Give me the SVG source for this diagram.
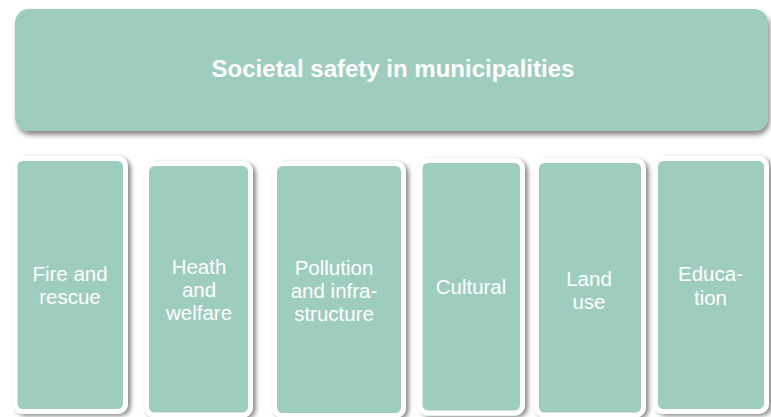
<svg xmlns="http://www.w3.org/2000/svg" width="771" height="417" viewBox="0 0 771 417">
  <defs>
    <filter id="shTop" x="-5%" y="-20%" width="110%" height="150%">
      <feDropShadow dx="2" dy="4" stdDeviation="2.5" flood-color="#000" flood-opacity="0.45"/>
    </filter>
    <filter id="sh" x="-20%" y="-10%" width="150%" height="120%">
      <feDropShadow dx="3" dy="2" stdDeviation="2.2" flood-color="#000" flood-opacity="0.45"/>
    </filter>
  </defs>
  <style>
    .top { fill: #9ecdbf; }
    .box { fill: #9ecdbf; stroke: #ffffff; stroke-width: 5; }
    .title { font-family: "Liberation Sans", Arial, sans-serif; font-size: 24px; font-weight: bold; fill: #ffffff; text-anchor: middle; }
    .lbl { font-family: "Liberation Sans", Arial, sans-serif; font-size: 20.5px; fill: #ffffff; text-anchor: middle; }
  </style>
  <rect width="771" height="417" fill="#ffffff"/>

  <g id="node-top">
    <rect class="top" x="15" y="9" width="753" height="122" rx="14" filter="url(#shTop)"/>
    <text class="title" x="393" y="77">Societal safety in municipalities</text>
  </g>

  <g id="node-fire">
    <rect class="box" x="15" y="158.5" width="110.5" height="253" rx="8" filter="url(#sh)"/>
    <text class="lbl" x="70" y="281">Fire and</text>
    <text class="lbl" x="70" y="304">rescue</text>
  </g>

  <g id="node-health">
    <rect class="box" x="146.5" y="163.5" width="104" height="251.5" rx="8" filter="url(#sh)"/>
    <text class="lbl" x="199" y="274">Heath</text>
    <text class="lbl" x="199" y="297">and</text>
    <text class="lbl" x="199" y="320">welfare</text>
  </g>

  <g id="node-pollution">
    <rect class="box" x="274.5" y="163.5" width="129" height="252" rx="8" filter="url(#sh)"/>
    <text class="lbl" x="334" y="275">Pollution</text>
    <text class="lbl" x="334" y="298">and infra-</text>
    <text class="lbl" x="334" y="321">structure</text>
  </g>

  <g id="node-cultural">
    <rect class="box" x="420" y="160.5" width="102.5" height="252.5" rx="8" filter="url(#sh)"/>
    <text class="lbl" x="471" y="294">Cultural</text>
  </g>

  <g id="node-land">
    <rect class="box" x="536.5" y="160.5" width="107" height="254.5" rx="8" filter="url(#sh)"/>
    <text class="lbl" x="589" y="286">Land</text>
    <text class="lbl" x="589" y="309">use</text>
  </g>

  <g id="node-education">
    <rect class="box" x="655.5" y="158.5" width="111" height="253" rx="8" filter="url(#sh)"/>
    <text class="lbl" x="710.5" y="281">Educa-</text>
    <text class="lbl" x="710.5" y="305">tion</text>
  </g>

  <g id="connectors"/>
</svg>
